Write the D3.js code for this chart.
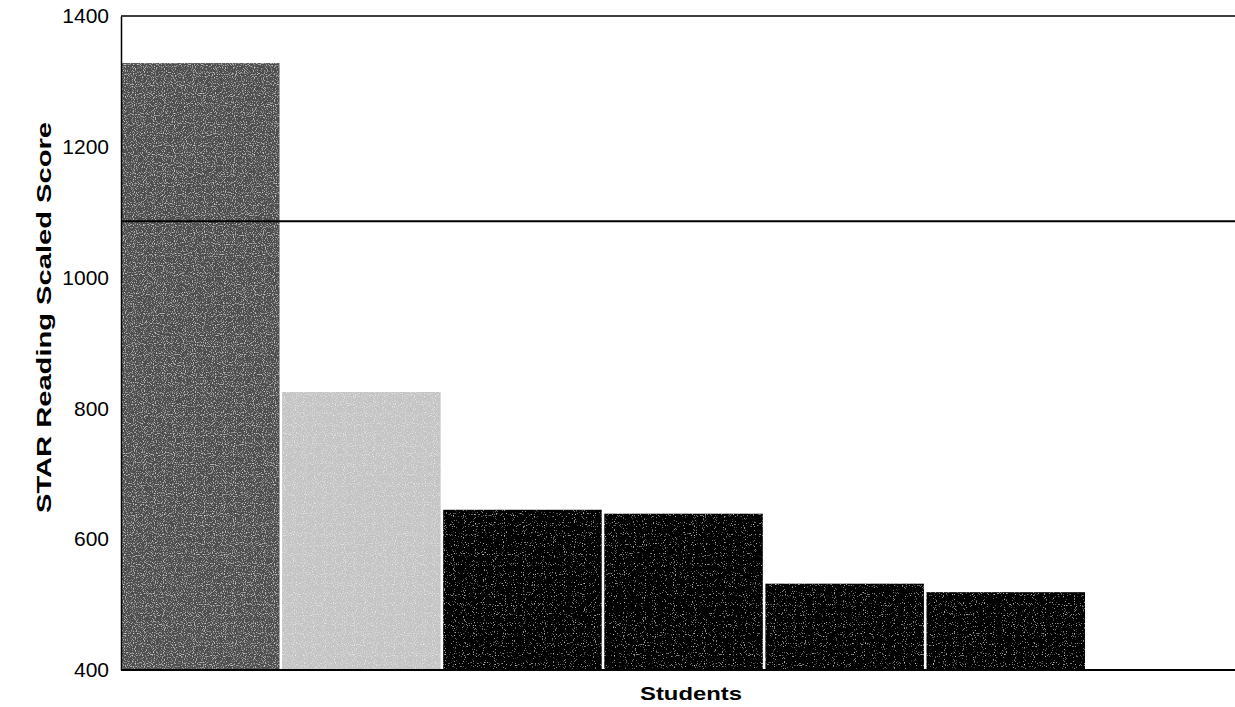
<!DOCTYPE html>
<html><head><meta charset="utf-8">
<script src="https://cdn.jsdelivr.net/npm/d3@7"></script>
<style>body{margin:0;background:#fff}svg{display:block}</style>
</head><body>
<svg id="c" width="1235" height="707"></svg>
<script>
const students = ["S1","S2","S3","S4","S5","S6"];
const scores = [1328, 825, 645, 639, 532, 519];
const barColors = ["#4d4d4d", "#c4c4c4", "#050505", "#050505", "#050505", "#050505"];
const barGrain = ["grainA", "grainA", "grainB", "grainB", "grainB", "grainB"];
const yTicks = [400, 600, 800, 1000, 1200, 1400];
const benchmark = [1086];

const svg = d3.select("#c");
const mLeft = 121, mRight = 1235, mTop = 16, mBottom = 670;
const FONT = "Liberation Sans, Arial, sans-serif";

const y = d3.scaleLinear().domain([400, 1400]).range([mBottom, mTop]);
const x = d3.scaleBand().domain(students).range([mLeft, 1085]).paddingInner(0.016).paddingOuter(0);

const defs = svg.append("defs");
function grain(id, alphaSlope, alphaOff){
  const f = defs.append("filter").attr("id",id).attr("x",0).attr("y",0).attr("width",1).attr("height",1);
  f.append("feTurbulence").attr("type","fractalNoise").attr("baseFrequency",0.9).attr("numOctaves",1).attr("seed",3).attr("result","n");
  f.append("feColorMatrix").attr("in","n").attr("type","matrix")
    .attr("values",`0 0 0 0 1  0 0 0 0 1  0 0 0 0 1  0 0 0 ${alphaSlope} ${alphaOff}`).attr("result","m");
  f.append("feComposite").attr("in","m").attr("in2","SourceGraphic").attr("operator","in").attr("result","spk");
  f.append("feMerge").call(m=>{m.append("feMergeNode").attr("in","SourceGraphic");m.append("feMergeNode").attr("in","spk");});
}
grain("grainA", -2.2, 1.05);
grain("grainB", -3.0, 1.1);

svg.append("g").selectAll("rect").data(scores).join("rect")
  .attr("x",(d,i)=>x(students[i]))
  .attr("y",d=>y(d))
  .attr("width",x.bandwidth())
  .attr("height",d=>y(400)-y(d))
  .attr("fill",(d,i)=>barColors[i])
  .attr("filter",(d,i)=>`url(#${barGrain[i]})`);

svg.append("line").attr("x1",mLeft).attr("x2",mRight).attr("y1",y(1400)).attr("y2",y(1400)).attr("stroke","#000").attr("stroke-width",1.5);
svg.append("line").attr("x1",mLeft).attr("x2",mRight).attr("y1",y(400)).attr("y2",y(400)).attr("stroke","#000").attr("stroke-width",2);

svg.append("g").selectAll("line").data(benchmark).join("line")
  .attr("x1",mLeft).attr("x2",mRight).attr("y1",d=>y(d)).attr("y2",d=>y(d))
  .attr("stroke","#000").attr("stroke-width",2);

const ax = svg.append("g").attr("transform",`translate(${mLeft},0)`)
  .call(d3.axisLeft(y).tickValues(yTicks).tickFormat(d3.format("d")).tickSize(0).tickPadding(12));
ax.select(".domain").attr("stroke","#000").attr("stroke-width",1.5);
ax.selectAll("text").attr("font-family",FONT).attr("font-size",21).attr("fill","#000");

svg.append("text").attr("transform",`translate(51,${(122+513)/2}) rotate(-90)`)
  .attr("text-anchor","middle").attr("font-family",FONT)
  .attr("font-size",20).attr("font-weight","bold")
  .attr("textLength",391).attr("lengthAdjust","spacingAndGlyphs")
  .text("STAR Reading Scaled Score");
svg.append("text").attr("x",691).attr("y",700).attr("text-anchor","middle")
  .attr("font-family",FONT)
  .attr("font-size",19).attr("font-weight","bold")
  .attr("textLength",102).attr("lengthAdjust","spacingAndGlyphs")
  .text("Students");
</script>
</body></html>
